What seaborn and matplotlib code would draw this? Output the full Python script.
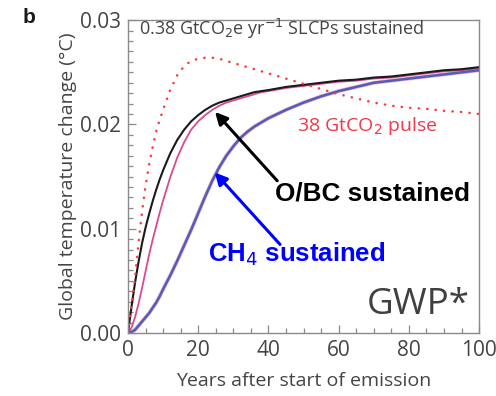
import numpy as np
import pandas as pd
import matplotlib
matplotlib.use("Agg")
import matplotlib.pyplot as plt
from matplotlib.ticker import MultipleLocator
import seaborn as sns

# Years after start of emission
years = [0, 1, 2, 3, 4, 5, 6, 7, 8, 9, 10, 12, 14, 16, 18, 20, 22, 24, 26, 28,
         30, 32, 34, 36, 38, 40, 45, 50, 55, 60, 65, 70, 75, 80, 85, 90, 95, 100]

# Temperature response (°C)
obc_sustained = [0, 0.0025, 0.0048, 0.0068, 0.0086, 0.0101, 0.0114, 0.0126, 0.0137, 0.0147,
                 0.0156, 0.0172, 0.0185, 0.0195, 0.0203, 0.0209, 0.0214, 0.0218, 0.0221, 0.0223,
                 0.0225, 0.0227, 0.0229, 0.0231, 0.0232, 0.0233, 0.0236, 0.0238, 0.0240, 0.0242,
                 0.0243, 0.0245, 0.0246, 0.0248, 0.0250, 0.0252, 0.0253, 0.0255]
obc_gwpstar = [0, 0.0005, 0.0015, 0.0028, 0.0043, 0.0059, 0.0075, 0.0089, 0.0102, 0.0115,
               0.0127, 0.0149, 0.0168, 0.0183, 0.0195, 0.0203, 0.0209, 0.0214, 0.0218, 0.0221,
               0.0223, 0.0225, 0.0227, 0.0229, 0.0231, 0.0232, 0.0235, 0.0237, 0.0239, 0.0241,
               0.0242, 0.0244, 0.0245, 0.0247, 0.0249, 0.0251, 0.0252, 0.0254]
ch4_sustained = [0, 0.0001, 0.0003, 0.0007, 0.0011, 0.0015, 0.0019, 0.0024, 0.0029, 0.0035,
                 0.0042, 0.0055, 0.0069, 0.0084, 0.0099, 0.0115, 0.0131, 0.0146, 0.0159, 0.0170,
                 0.0179, 0.0187, 0.0193, 0.0198, 0.0202, 0.0206, 0.0214, 0.0221, 0.0227, 0.0232,
                 0.0236, 0.0240, 0.0242, 0.0244, 0.0246, 0.0248, 0.0250, 0.0252]
ch4_gwpstar = [0, 0.0001, 0.0003, 0.0007, 0.0011, 0.0015, 0.0019, 0.0024, 0.0029, 0.0035,
               0.0042, 0.0055, 0.0069, 0.0084, 0.0099, 0.0115, 0.0131, 0.0146, 0.0159, 0.0170,
               0.0179, 0.0187, 0.0193, 0.0198, 0.0202, 0.0206, 0.0214, 0.0221, 0.0227, 0.0232,
               0.0236, 0.0240, 0.0242, 0.0244, 0.0246, 0.0248, 0.0250, 0.0252]
co2_pulse = [0, 0.0026, 0.0053, 0.0086, 0.0116, 0.0141, 0.0161, 0.0178, 0.0193, 0.0204,
             0.0214, 0.0233, 0.0247, 0.0256, 0.0261, 0.0263, 0.0264, 0.0264, 0.0263, 0.0261,
             0.0259, 0.0257, 0.0255, 0.0253, 0.0251, 0.0249, 0.0244, 0.0239, 0.0234, 0.0229,
             0.0225, 0.0221, 0.0218, 0.0216, 0.0215, 0.0213, 0.0212, 0.0210]

x_ticks = [0, 20, 40, 60, 80, 100]
y_ticks = [0.00, 0.01, 0.02, 0.03]
y_tick_labels = ["0.00", "0.01", "0.02", "0.03"]

sns.set_theme(style="white")
plt.rcParams["font.family"] = ["Open Sans", "DejaVu Sans"]

fig = plt.figure(figsize=(4.96, 3.96), dpi=100)
ax = fig.add_axes([0.258, 0.159, 0.708, 0.790])

df = pd.DataFrame({
    "year": years,
    "obc": obc_sustained,
    "obc_star": obc_gwpstar,
    "ch4": ch4_sustained,
    "ch4_star": ch4_gwpstar,
    "co2": co2_pulse,
})

pink = "#d94a92"
sns.lineplot(data=df, x="year", y="obc_star", ax=ax, color=pink, lw=1.3)
sns.lineplot(data=df, x="year", y="ch4_star", ax=ax, color=pink, lw=2.8, alpha=0.45)
sns.lineplot(data=df, x="year", y="obc", ax=ax, color="#1a1a1a", lw=1.5)
sns.lineplot(data=df, x="year", y="ch4", ax=ax, color="#4f5fb5", lw=1.8)
line_co2 = sns.lineplot(data=df, x="year", y="co2", ax=ax, color="#ff3a3a", lw=1.8)
line_co2.lines[-1].set_linestyle((0, (0.1, 3.3)))
line_co2.lines[-1].set_dash_capstyle("round")

ax.set_xlim(0, 100)
ax.set_ylim(0, 0.03)
ax.set_xticks(x_ticks)
ax.set_yticks(y_ticks)
ax.set_yticklabels(y_tick_labels)
ax.xaxis.set_minor_locator(MultipleLocator(5))
ax.yaxis.set_minor_locator(MultipleLocator(0.001))
ax.tick_params(which="both", direction="in", colors="#8a8a8a", labelcolor="#444444",
               top=False, right=False, bottom=True, left=True, width=0.9)
ax.tick_params(which="major", length=6, labelsize=15, pad=5)
ax.tick_params(which="minor", length=3.5)
for s in ax.spines.values():
    s.set_color("#8a8a8a")
    s.set_linewidth(1.0)

ax.set_xlabel("Years after start of emission", fontsize=14, color="#444444", labelpad=8)
ax.set_ylabel("Global temperature change (°C)", fontsize=14, color="#444444", labelpad=2)

ax.text(3, 0.0292, "0.38 GtCO$_2$e yr$^{-1}$ SLCPs sustained", fontsize=13,
        color="#444444", va="center", ha="left")
ax.text(48, 0.0199, "38 GtCO$_2$ pulse", fontsize=14, color="#f0384a",
        va="center", ha="left")

bold = ["Liberation Sans", "DejaVu Sans"]
ax.annotate("", xy=(24.8, 0.0212), xytext=(42.5, 0.0146),
            arrowprops=dict(arrowstyle="-|>", color="black", lw=2.2,
                            mutation_scale=18, shrinkA=0, shrinkB=0))
ax.text(42.0, 0.0134, "O/BC sustained", fontsize=18.8, fontweight="bold",
        family=bold, color="black", va="center", ha="left")
ax.annotate("", xy=(24.7, 0.0154), xytext=(43.3, 0.0085),
            arrowprops=dict(arrowstyle="-|>", color="#0000ff", lw=2.2,
                            mutation_scale=18, shrinkA=0, shrinkB=0))
ax.text(22.8, 0.0076, "CH$_4$ sustained", fontsize=18.5, fontweight="bold",
        family=bold, color="#0000ff", va="center", ha="left")
ax.text(97.3, 0.0027, "GWP*", fontsize=26.5, color="#404040", va="center", ha="right")

fig.text(0.046, 0.955, "b", fontsize=15, fontweight="bold", family=bold,
         color="#1a1a1a", va="center", ha="left")

fig.savefig("out.png", dpi=100)
